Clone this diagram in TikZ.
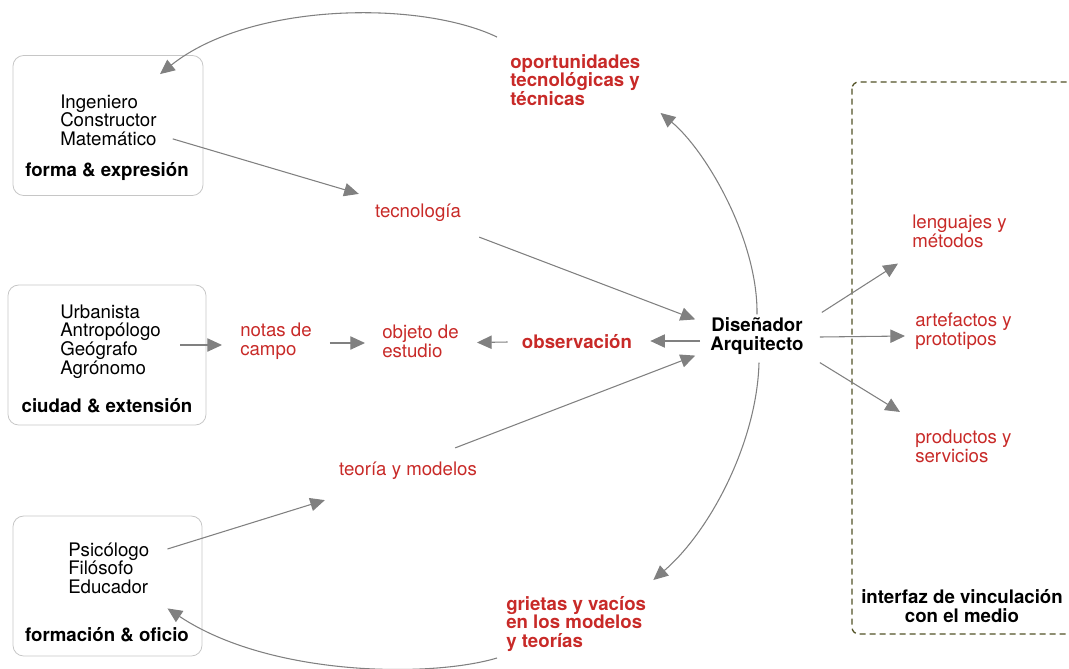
\documentclass[tikz,border=0pt]{standalone}
\usepackage{fontspec}
\setmainfont{TeX Gyre Heros}
\usetikzlibrary{arrows.meta}
\definecolor{rojo}{RGB}{200,42,40}
\definecolor{oliva}{RGB}{82,82,38}
\definecolor{gris}{RGB}{128,128,128}
\begin{document}
\begin{tikzpicture}[x=0.75pt,y=-0.75pt,
  txt/.style={inner sep=0pt,align=left,font=\fontsize{14}{14}\selectfont},
  rol/.style={txt},
  titulo/.style={txt,align=center,font=\fontsize{14}{14}\selectfont\bfseries},
  salida/.style={txt,text=rojo},
  salidab/.style={titulo,align=left,text=rojo},
  caja/.style={draw=gray!45,line width=0.6pt,rounded corners=8pt},
  flecha/.style={draw=gris,line width=0.8pt,-{Triangle[length=11pt,width=10pt]}},
  marco/.style={draw=oliva,line width=1pt,dash pattern=on 4.5pt off 3pt,rounded corners=5pt}]
\useasboundingbox (0,0) rectangle (1069,668);
\clip (0,0) rectangle (1069,668);
\node[caja,minimum width=142.5pt,minimum height=105pt] (caja1) at (108,125.5) {};
\node[caja,minimum width=148.5pt,minimum height=105pt] (caja2) at (107,355) {};
\node[caja,minimum width=141.75pt,minimum height=105pt] (caja3) at (107.5,586) {};
\node[rol,anchor=west] (roles1) at (60,120) {Ingeniero\\Constructor\\Matemático};
\node[titulo] (forma) at (107,172) {forma \& expresión};
\node[rol,anchor=west] (roles2) at (60,341.5) {Urbanista\\Antropólogo\\Geógrafo\\Agrónomo};
\node[titulo] (ciudad) at (107,406) {ciudad \& extensión};
\node[rol,anchor=west] (roles3) at (68,568) {Psicólogo\\Filósofo\\Educador};
\node[titulo] (formacion) at (107,635) {formación \& oficio};
\node[salidab,anchor=west] (oport) at (510,80) {oportunidades\\tecnológicas y\\técnicas};
\node[salida] (tecno) at (418,213) {tecnología};
\node[salida,anchor=west] (notas) at (240,341.5) {notas de\\campo};
\node[salida,anchor=west] (objeto) at (382,341.5) {objeto de\\estudio};
\node[salidab] (obs) at (577,342) {observación};
\node[titulo] (disenador) at (757,336) {Diseñador\\Arquitecto};
\node[salida] (teoria) at (408,471) {teoría y modelos};
\node[salidab,anchor=west] (grietas) at (506,624) {grietas y vacíos\\en los modelos\\y teorías};
\node[salida,anchor=west] (lenguajes) at (912,231) {lenguajes y\\métodos};
\node[salida,anchor=west] (artefactos) at (915,331.5) {artefactos y\\prototipos};
\node[salida,anchor=west] (productos) at (915,446.5) {productos y\\servicios};
\node[titulo] (interfaz) at (962,606) {interfaz de vinculación\\con el medio};
\draw[marco] (852,82) rectangle (1100,634);
\draw[flecha] ([shift={(16,-7)}]roles1.south east) -- ([shift={(-16,-10)}]tecno.north west);
\draw[flecha] ([shift={(18,15)}]tecno.south east) -- ([shift={(-15,2)}]disenador.north west);
\draw[flecha] ([shift={(19,3.5)}]roles2.east) -- ([shift={(-18,3.5)}]notas.west);
\draw[flecha] ([shift={(18,1.5)}]notas.east) -- ([shift={(-17,1.5)}]objeto.west);
\draw[flecha] ([shift={(-14,0)}]obs.west) -- ([shift={(18,1)}]objeto.east);
\draw[flecha] ([shift={(-10,5)}]disenador.west) -- ([shift={(18,-1)}]obs.east);
\draw[flecha] ([shift={(-22,-14)}]teoria.north east) -- ([shift={(-15,1)}]disenador.south west);
\draw[flecha] ([shift={(18,-19)}]roles3.east) -- ([shift={(-14,20)}]teoria.south west);
\draw[flecha] ([shift={(18,-5)}]disenador.north east) -- ([shift={(-14,16)}]lenguajes.south west);
\draw[flecha] ([shift={(16,1)}]disenador.east) -- ([shift={(-10,4.5)}]artefactos.west);
\draw[flecha] ([shift={(16,8)}]disenador.south east) -- ([shift={(-15,-18)}]productos.north west);
\draw[flecha] ([shift={(-13,-17)}]oport.north west) .. controls +(-77,-37) and +(90,-72) .. ([shift={(52,19)}]caja1.north);
\draw[flecha] ([shift={(0,-3)}]disenador.north) .. controls +(1,-75) and +(45,37) .. ([shift={(20,7)}]oport.south east);
\draw[flecha] ([shift={(2,8)}]disenador.south) .. controls +(-2,78) and +(58,-50) .. ([shift={(7,-16)}]grietas.north east);
\draw[flecha] ([shift={(-9,6)}]grietas.south west) .. controls +(-67,20) and +(102,68) .. ([shift={(60,-48)}]caja3.south);
\end{tikzpicture}
\end{document}
